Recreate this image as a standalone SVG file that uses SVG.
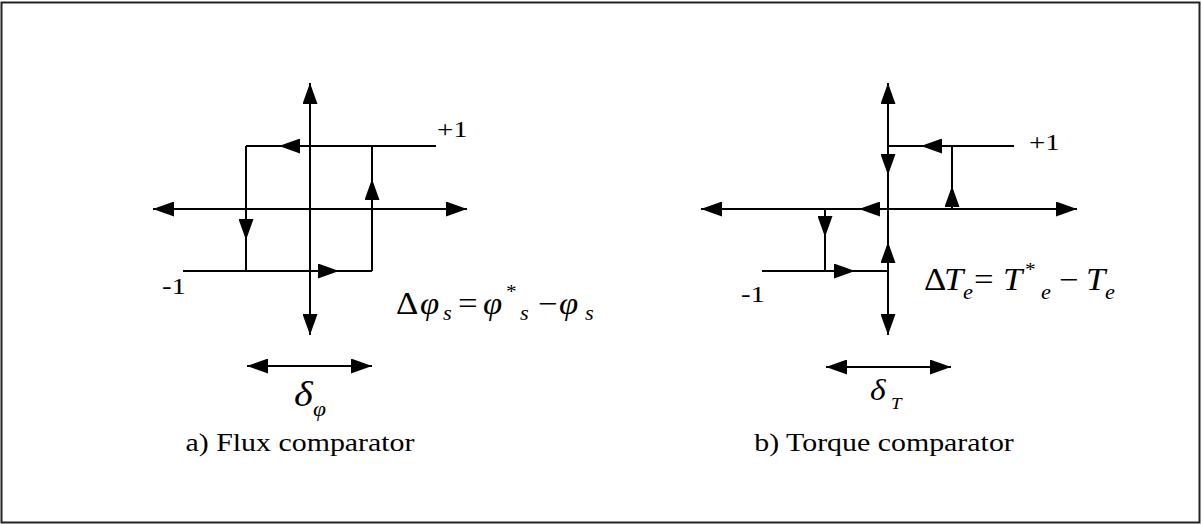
<svg xmlns="http://www.w3.org/2000/svg" width="1202" height="524" viewBox="0 0 1202 524">
<style>
.ln{stroke:#000;stroke-width:2;fill:none}
.ax{stroke:#000;stroke-width:2;fill:none;marker-start:url(#ah);marker-end:url(#ah)}
.ar{stroke:#000;stroke-width:2;fill:none;marker-end:url(#ah)}
text{font-family:"Liberation Serif","Times New Roman","DejaVu Serif",serif;fill:#000}
.it{font-style:italic}
</style>
<defs>
<marker id="ah" viewBox="0 0 21 15" refX="21" refY="7.5" markerWidth="21" markerHeight="15" markerUnits="userSpaceOnUse" orient="auto-start-reverse">
<path d="M0,0 L21,7.5 L0,15 z" fill="#000"/>
</marker>
</defs>
<rect x="1.5" y="2.5" width="1198" height="520" fill="#fff" stroke="#222" stroke-width="2"/>
<g id="connectors">
<line class="ax" x1="310" y1="335" x2="310" y2="83"/>
<line class="ax" x1="153" y1="209" x2="467" y2="209"/>
<line class="ar" x1="436" y1="146" x2="279" y2="146"/>
<line class="ln" x1="279" y1="146" x2="246" y2="146"/>
<line class="ar" x1="246" y1="146" x2="246" y2="240"/>
<line class="ln" x1="246" y1="240" x2="246" y2="271"/>
<line class="ar" x1="183" y1="271" x2="339" y2="271"/>
<line class="ln" x1="339" y1="271" x2="372" y2="271"/>
<line class="ar" x1="372" y1="271" x2="372" y2="179"/>
<line class="ln" x1="372" y1="179" x2="372" y2="146"/>
<line class="ax" x1="247" y1="366" x2="372" y2="366"/>
<line class="ax" x1="888" y1="335" x2="888" y2="83"/>
<line class="ax" x1="701" y1="209" x2="1077" y2="209"/>
<line class="ar" x1="1014" y1="146" x2="921" y2="146"/>
<line class="ln" x1="921" y1="146" x2="888" y2="146"/>
<line class="ar" x1="888" y1="146" x2="888" y2="175"/>
<line class="ar" x1="952" y1="209" x2="952" y2="186"/>
<line class="ln" x1="952" y1="186" x2="952" y2="146"/>
<line class="ar" x1="952" y1="209" x2="859" y2="209"/>
<line class="ar" x1="825" y1="209" x2="825" y2="237"/>
<line class="ln" x1="825" y1="237" x2="825" y2="271"/>
<line class="ar" x1="762" y1="271" x2="855" y2="271"/>
<line class="ln" x1="855" y1="271" x2="888" y2="271"/>
<line class="ar" x1="888" y1="271" x2="888" y2="242"/>
<line class="ax" x1="826" y1="367" x2="951" y2="367"/>
</g>
<g id="flux-labels" font-family="'Liberation Serif', 'Times New Roman', serif">
<text transform="translate(437,137) scale(1.2,1)" font-size="24">+1</text>
<text transform="translate(162,294) scale(1.2,1)" font-size="24">-1</text>
<text transform="translate(396,314) scale(1.12,1)" font-size="31">Δ</text>
<text class="it" transform="translate(420,314) scale(1.12,1)" font-size="31">φ</text>
<text class="it" transform="translate(443,320) scale(1.12,1)" font-size="20">s</text>
<text transform="translate(458,314) scale(1.12,1)" font-size="31">=</text>
<text class="it" transform="translate(483,314) scale(1.12,1)" font-size="31">φ</text>
<text transform="translate(506,298) scale(1.12,1)" font-size="19">*</text>
<text class="it" transform="translate(520,320) scale(1.12,1)" font-size="20">s</text>
<text transform="translate(538,314) scale(1.12,1)" font-size="31">−</text>
<text class="it" transform="translate(559,314) scale(1.12,1)" font-size="31">φ</text>
<text class="it" transform="translate(585,320) scale(1.12,1)" font-size="20">s</text>
<text class="it" transform="translate(294,406) scale(1.12,1)" font-size="36">δ</text>
<text class="it" transform="translate(313,416) scale(1.12,1)" font-size="21">φ</text>
<text transform="translate(300,451) scale(1.15,1)" font-size="26" text-anchor="middle">a) Flux comparator</text>
</g>
<g id="torque-labels" font-family="'Liberation Serif', 'Times New Roman', serif">
<text transform="translate(1029,150) scale(1.2,1)" font-size="24">+1</text>
<text transform="translate(741,302) scale(1.2,1)" font-size="24">-1</text>
<text transform="translate(924,290) scale(1.12,1)" font-size="31">Δ</text>
<text class="it" transform="translate(944,290) scale(1.12,1)" font-size="31">T</text>
<text class="it" transform="translate(963,299) scale(1.12,1)" font-size="20">e</text>
<text transform="translate(974,290) scale(1.12,1)" font-size="31">=</text>
<text class="it" transform="translate(1003,290) scale(1.12,1)" font-size="31">T</text>
<text transform="translate(1025,276) scale(1.12,1)" font-size="19">*</text>
<text class="it" transform="translate(1041,299) scale(1.12,1)" font-size="20">e</text>
<text transform="translate(1059,290) scale(1.12,1)" font-size="31">−</text>
<text class="it" transform="translate(1086,290) scale(1.12,1)" font-size="31">T</text>
<text class="it" transform="translate(1105,299) scale(1.12,1)" font-size="20">e</text>
<text class="it" transform="translate(870,400) scale(1.12,1)" font-size="30">δ</text>
<text class="it" transform="translate(891,409) scale(1.12,1)" font-size="17">T</text>
<text transform="translate(884,451) scale(1.15,1)" font-size="26" text-anchor="middle">b) Torque comparator</text>
</g>
</svg>
